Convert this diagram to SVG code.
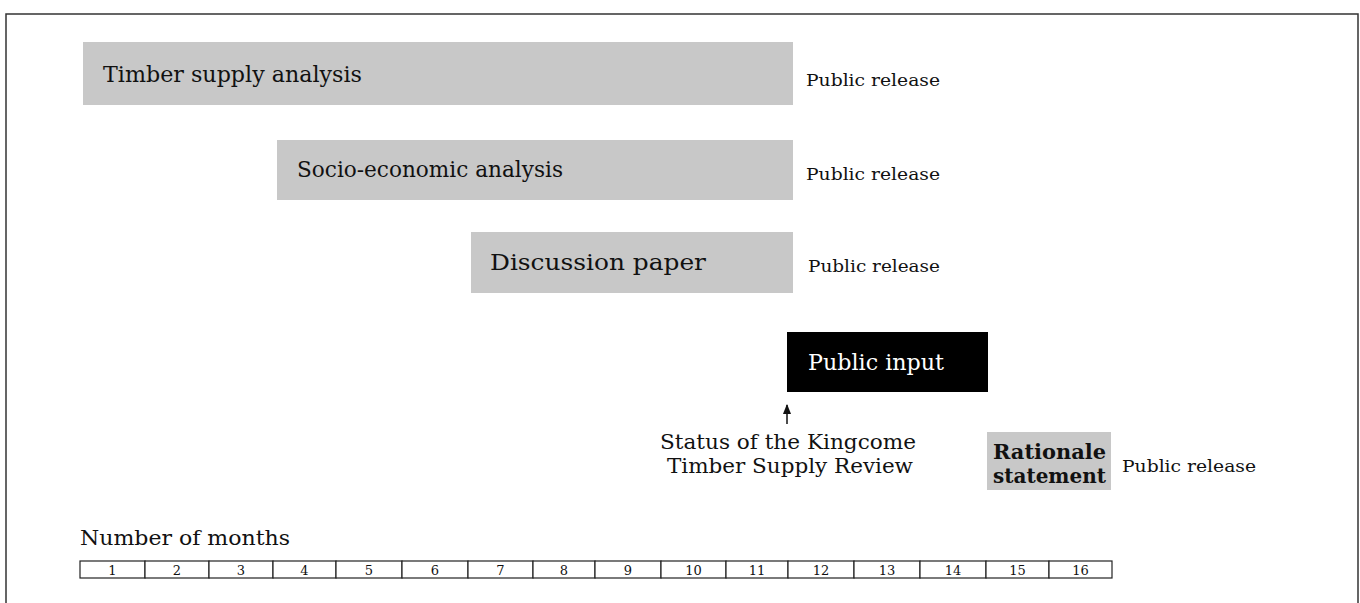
<svg xmlns="http://www.w3.org/2000/svg" width="1360" height="603" viewBox="0 0 1360 603">
<defs>
<style>
text{font-family:"DejaVu Serif","Liberation Serif",serif;fill:#111}
.bar{fill:#c8c8c8}
.bt{font-size:23px}
.pr{font-size:17px}
.cell{fill:#fff;stroke:#222;stroke-width:1.2}
.num{font-size:13px;text-anchor:middle}
</style>
<marker id="ah" viewBox="0 0 10 10" refX="9" refY="5" markerWidth="7" markerHeight="7" orient="auto"><path d="M0,1 L10,5 L0,9 z" fill="#111"/></marker>
</defs>
<rect width="1360" height="603" fill="#fff"/>
<path d="M6,603 V14 H1358 V603" fill="none" stroke="#333" stroke-width="1.5"/>
<g id="timber"><rect class="bar" x="83" y="42" width="710" height="63"/><text class="bt" x="103" y="82" textLength="259" lengthAdjust="spacingAndGlyphs">Timber supply analysis</text></g>
<g id="release1"><text class="pr" x="806" y="86" textLength="134" lengthAdjust="spacingAndGlyphs">Public release</text></g>
<g id="socio"><rect class="bar" x="277" y="140" width="516" height="60"/><text class="bt" x="297" y="177" textLength="266" lengthAdjust="spacingAndGlyphs">Socio-economic analysis</text></g>
<g id="release2"><text class="pr" x="806" y="180" textLength="134" lengthAdjust="spacingAndGlyphs">Public release</text></g>
<g id="discussion"><rect class="bar" x="471" y="232" width="322" height="61"/><text class="bt" x="490" y="270" textLength="216" lengthAdjust="spacingAndGlyphs">Discussion paper</text></g>
<g id="release3"><text class="pr" x="808" y="272" textLength="132" lengthAdjust="spacingAndGlyphs">Public release</text></g>
<g id="publicinput"><rect x="787" y="332" width="201" height="60" fill="#000"/><text class="bt" x="808" y="370" textLength="136" lengthAdjust="spacingAndGlyphs" style="fill:#fff">Public input</text></g>
<g id="rationale"><rect class="bar" x="987" y="432" width="124" height="58"/><text x="993" y="459" font-size="20" font-weight="bold" textLength="113" lengthAdjust="spacingAndGlyphs">Rationale</text><text x="993" y="483" font-size="20" font-weight="bold" textLength="113" lengthAdjust="spacingAndGlyphs">statement</text></g>
<g id="release4"><text class="pr" x="1122" y="472" textLength="134" lengthAdjust="spacingAndGlyphs">Public release</text></g>
<g id="status"><text x="788" y="449" font-size="20" text-anchor="middle" textLength="256" lengthAdjust="spacingAndGlyphs">Status of the Kingcome</text><text x="790" y="473" font-size="20" text-anchor="middle" textLength="246" lengthAdjust="spacingAndGlyphs">Timber Supply Review</text></g>
<g id="connectors"><line x1="787" y1="424" x2="787" y2="405" stroke="#111" stroke-width="1.5" marker-end="url(#ah)"/></g>
<g id="months"><text x="80" y="545" font-size="21" textLength="210" lengthAdjust="spacingAndGlyphs">Number of months</text></g>
<g id="timeline">
<rect class="cell" x="80" y="561" width="65" height="17"/><text class="num" x="112.5" y="575">1</text>
<rect class="cell" x="145" y="561" width="64" height="17"/><text class="num" x="177" y="575">2</text>
<rect class="cell" x="209" y="561" width="64" height="17"/><text class="num" x="241" y="575">3</text>
<rect class="cell" x="273" y="561" width="63" height="17"/><text class="num" x="304.5" y="575">4</text>
<rect class="cell" x="336" y="561" width="66" height="17"/><text class="num" x="369" y="575">5</text>
<rect class="cell" x="402" y="561" width="66" height="17"/><text class="num" x="435" y="575">6</text>
<rect class="cell" x="468" y="561" width="65" height="17"/><text class="num" x="500.5" y="575">7</text>
<rect class="cell" x="533" y="561" width="62" height="17"/><text class="num" x="564" y="575">8</text>
<rect class="cell" x="595" y="561" width="66" height="17"/><text class="num" x="628" y="575">9</text>
<rect class="cell" x="661" y="561" width="65" height="17"/><text class="num" x="693.5" y="575">10</text>
<rect class="cell" x="726" y="561" width="62" height="17"/><text class="num" x="757" y="575">11</text>
<rect class="cell" x="788" y="561" width="66" height="17"/><text class="num" x="821" y="575">12</text>
<rect class="cell" x="854" y="561" width="66" height="17"/><text class="num" x="887" y="575">13</text>
<rect class="cell" x="920" y="561" width="66" height="17"/><text class="num" x="953" y="575">14</text>
<rect class="cell" x="986" y="561" width="63" height="17"/><text class="num" x="1017.5" y="575">15</text>
<rect class="cell" x="1049" y="561" width="63" height="17"/><text class="num" x="1080.5" y="575">16</text>
</g>
</svg>
